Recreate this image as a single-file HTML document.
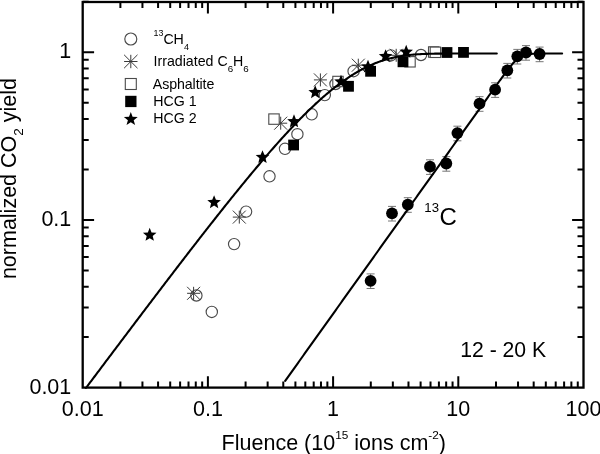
<!DOCTYPE html>
<html><head><meta charset="utf-8"><style>
html,body{margin:0;padding:0;background:#fff;}
body{width:600px;height:454px;overflow:hidden;font-family:"Liberation Sans",sans-serif;}
svg{display:block;will-change:transform;}
</style></head><body>
<svg width="600" height="454" viewBox="0 0 600 454"><rect x="82.70" y="2.00" width="500.80" height="385.60" fill="none" stroke="#000" stroke-width="2.3"/>
<path fill="none" stroke="#000" stroke-width="2.00" d="M120.39,387.60v-6.00M120.39,2.00v6.00M142.44,387.60v-6.00M142.44,2.00v6.00M158.08,387.60v-6.00M158.08,2.00v6.00M170.21,387.60v-6.00M170.21,2.00v6.00M180.12,387.60v-6.00M180.12,2.00v6.00M188.51,387.60v-6.00M188.51,2.00v6.00M195.77,387.60v-6.00M195.77,2.00v6.00M202.17,387.60v-6.00M202.17,2.00v6.00M207.90,387.60v-11.40M207.90,2.00v11.40M245.59,387.60v-6.00M245.59,2.00v6.00M267.64,387.60v-6.00M267.64,2.00v6.00M283.28,387.60v-6.00M283.28,2.00v6.00M295.41,387.60v-6.00M295.41,2.00v6.00M305.32,387.60v-6.00M305.32,2.00v6.00M313.71,387.60v-6.00M313.71,2.00v6.00M320.97,387.60v-6.00M320.97,2.00v6.00M327.37,387.60v-6.00M327.37,2.00v6.00M333.10,387.60v-11.40M333.10,2.00v11.40M370.79,387.60v-6.00M370.79,2.00v6.00M392.84,387.60v-6.00M392.84,2.00v6.00M408.48,387.60v-6.00M408.48,2.00v6.00M420.61,387.60v-6.00M420.61,2.00v6.00M430.52,387.60v-6.00M430.52,2.00v6.00M438.91,387.60v-6.00M438.91,2.00v6.00M446.17,387.60v-6.00M446.17,2.00v6.00M452.57,387.60v-6.00M452.57,2.00v6.00M458.30,387.60v-11.40M458.30,2.00v11.40M495.99,387.60v-6.00M495.99,2.00v6.00M518.04,387.60v-6.00M518.04,2.00v6.00M533.68,387.60v-6.00M533.68,2.00v6.00M545.81,387.60v-6.00M545.81,2.00v6.00M555.72,387.60v-6.00M555.72,2.00v6.00M564.11,387.60v-6.00M564.11,2.00v6.00M571.37,387.60v-6.00M571.37,2.00v6.00M577.77,387.60v-6.00M577.77,2.00v6.00M82.70,337.12h6.00M583.50,337.12h-6.00M82.70,307.59h6.00M583.50,307.59h-6.00M82.70,286.63h6.00M583.50,286.63h-6.00M82.70,270.38h6.00M583.50,270.38h-6.00M82.70,257.10h6.00M583.50,257.10h-6.00M82.70,245.88h6.00M583.50,245.88h-6.00M82.70,236.15h6.00M583.50,236.15h-6.00M82.70,227.57h6.00M583.50,227.57h-6.00M82.70,219.90h11.40M583.50,219.90h-11.40M82.70,169.42h6.00M583.50,169.42h-6.00M82.70,139.89h6.00M583.50,139.89h-6.00M82.70,118.93h6.00M583.50,118.93h-6.00M82.70,102.68h6.00M583.50,102.68h-6.00M82.70,89.40h6.00M583.50,89.40h-6.00M82.70,78.18h6.00M583.50,78.18h-6.00M82.70,68.45h6.00M583.50,68.45h-6.00M82.70,59.87h6.00M583.50,59.87h-6.00M82.70,52.20h11.40M583.50,52.20h-11.40M82.70,1.72h6.00M583.50,1.72h-6.00"/>
<circle cx="196.4" cy="295.5" r="5.65" fill="none" stroke="#4a4a4a" stroke-width="1.15"/>
<circle cx="211.8" cy="311.9" r="5.65" fill="none" stroke="#4a4a4a" stroke-width="1.15"/>
<circle cx="234.1" cy="244.1" r="5.65" fill="none" stroke="#4a4a4a" stroke-width="1.15"/>
<circle cx="246.1" cy="211.6" r="5.65" fill="none" stroke="#4a4a4a" stroke-width="1.15"/>
<circle cx="269.5" cy="176.3" r="5.65" fill="none" stroke="#4a4a4a" stroke-width="1.15"/>
<circle cx="285.0" cy="148.8" r="5.65" fill="none" stroke="#4a4a4a" stroke-width="1.15"/>
<circle cx="297.4" cy="134.2" r="5.65" fill="none" stroke="#4a4a4a" stroke-width="1.15"/>
<circle cx="311.7" cy="114.3" r="5.65" fill="none" stroke="#4a4a4a" stroke-width="1.15"/>
<circle cx="324.8" cy="95.1" r="5.65" fill="none" stroke="#4a4a4a" stroke-width="1.15"/>
<circle cx="335.5" cy="84.0" r="5.65" fill="none" stroke="#4a4a4a" stroke-width="1.15"/>
<circle cx="353.6" cy="71.2" r="5.65" fill="none" stroke="#4a4a4a" stroke-width="1.15"/>
<circle cx="390.8" cy="55.4" r="5.65" fill="none" stroke="#4a4a4a" stroke-width="1.15"/>
<circle cx="421.0" cy="55.0" r="5.65" fill="none" stroke="#4a4a4a" stroke-width="1.15"/>
<path d="M187.1,293.3h13.0M193.6,286.8v13.0M187.1,286.8l13.0,13.0M187.1,299.8l13.0,-13.0" fill="none" stroke="#3a3a3a" stroke-width="1.0"/>
<path d="M232.8,217.1h13.0M239.3,210.6v13.0M232.8,210.6l13.0,13.0M232.8,223.6l13.0,-13.0" fill="none" stroke="#3a3a3a" stroke-width="1.0"/>
<path d="M274.2,123.2h13.0M280.7,116.7v13.0M274.2,116.7l13.0,13.0M274.2,129.7l13.0,-13.0" fill="none" stroke="#3a3a3a" stroke-width="1.0"/>
<path d="M313.9,79.9h13.0M320.4,73.4v13.0M313.9,73.4l13.0,13.0M313.9,86.4l13.0,-13.0" fill="none" stroke="#3a3a3a" stroke-width="1.0"/>
<path d="M351.8,65.2h13.0M358.3,58.7v13.0M351.8,58.7l13.0,13.0M351.8,71.7l13.0,-13.0" fill="none" stroke="#3a3a3a" stroke-width="1.0"/>
<path d="M389.7,55.3h13.0M396.2,48.8v13.0M389.7,48.8l13.0,13.0M389.7,61.8l13.0,-13.0" fill="none" stroke="#3a3a3a" stroke-width="1.0"/>
<rect x="268.8" y="113.9" width="10.4" height="10.4" fill="#fff" stroke="#4a4a4a" stroke-width="1.1"/>
<rect x="332.8" y="76.3" width="10.4" height="10.4" fill="#fff" stroke="#4a4a4a" stroke-width="1.1"/>
<rect x="404.8" y="56.6" width="10.4" height="10.4" fill="#fff" stroke="#4a4a4a" stroke-width="1.1"/>
<rect x="428.5" y="46.8" width="10.4" height="10.4" fill="#fff" stroke="#4a4a4a" stroke-width="1.1"/>
<rect x="430.2" y="47.1" width="10.4" height="10.4" fill="#fff" stroke="#4a4a4a" stroke-width="1.1"/>
<rect x="288.2" y="139.6" width="10.8" height="10.8" fill="#000"/>
<rect x="343.1" y="80.9" width="10.8" height="10.8" fill="#000"/>
<rect x="365.2" y="65.9" width="10.8" height="10.8" fill="#000"/>
<rect x="397.6" y="56.4" width="10.8" height="10.8" fill="#000"/>
<rect x="441.6" y="47.1" width="10.8" height="10.8" fill="#000"/>
<rect x="458.1" y="47.0" width="10.8" height="10.8" fill="#000"/>
<polygon points="149.70,227.85 151.55,232.45 156.50,232.79 152.70,235.97 153.90,240.78 149.70,238.15 145.50,240.78 146.70,235.97 142.90,232.79 147.85,232.45" fill="#000"/>
<polygon points="214.10,195.25 215.95,199.85 220.90,200.19 217.10,203.37 218.30,208.18 214.10,205.55 209.90,208.18 211.10,203.37 207.30,200.19 212.25,199.85" fill="#000"/>
<polygon points="262.50,150.15 264.35,154.75 269.30,155.09 265.50,158.27 266.70,163.08 262.50,160.45 258.30,163.08 259.50,158.27 255.70,155.09 260.65,154.75" fill="#000"/>
<polygon points="294.00,114.35 295.85,118.95 300.80,119.29 297.00,122.47 298.20,127.28 294.00,124.65 289.80,127.28 291.00,122.47 287.20,119.29 292.15,118.95" fill="#000"/>
<polygon points="315.20,85.25 317.05,89.85 322.00,90.19 318.20,93.37 319.40,98.18 315.20,95.55 311.00,98.18 312.20,93.37 308.40,90.19 313.35,89.85" fill="#000"/>
<polygon points="341.00,74.65 342.85,79.25 347.80,79.59 344.00,82.77 345.20,87.58 341.00,84.95 336.80,87.58 338.00,82.77 334.20,79.59 339.15,79.25" fill="#000"/>
<polygon points="368.00,59.65 369.85,64.25 374.80,64.59 371.00,67.77 372.20,72.58 368.00,69.95 363.80,72.58 365.00,67.77 361.20,64.59 366.15,64.25" fill="#000"/>
<polygon points="385.60,49.25 387.45,53.85 392.40,54.19 388.60,57.37 389.80,62.18 385.60,59.55 381.40,62.18 382.60,57.37 378.80,54.19 383.75,53.85" fill="#000"/>
<polygon points="406.20,44.85 408.05,49.45 413.00,49.79 409.20,52.97 410.40,57.78 406.20,55.15 402.00,57.78 403.20,52.97 399.40,49.79 404.35,49.45" fill="#000"/>
<path d="M370.6,273.9V288.5M366.6,273.9h8.0M366.6,288.5h8.0" fill="none" stroke="#666" stroke-width="0.9"/>
<path d="M392.0,206.4V221.0M388.0,206.4h8.0M388.0,221.0h8.0" fill="none" stroke="#666" stroke-width="0.9"/>
<path d="M407.8,197.7V212.3M403.8,197.7h8.0M403.8,212.3h8.0" fill="none" stroke="#666" stroke-width="0.9"/>
<path d="M430.0,159.8V174.4M426.0,159.8h8.0M426.0,174.4h8.0" fill="none" stroke="#666" stroke-width="0.9"/>
<path d="M446.3,156.6V171.2M442.3,156.6h8.0M442.3,171.2h8.0" fill="none" stroke="#666" stroke-width="0.9"/>
<path d="M457.4,126.2V140.8M453.4,126.2h8.0M453.4,140.8h8.0" fill="none" stroke="#666" stroke-width="0.9"/>
<path d="M479.5,96.7V111.3M475.5,96.7h8.0M475.5,111.3h8.0" fill="none" stroke="#666" stroke-width="0.9"/>
<path d="M495.1,82.8V97.4M491.1,82.8h8.0M491.1,97.4h8.0" fill="none" stroke="#666" stroke-width="0.9"/>
<path d="M507.3,63.4V78.0M503.3,63.4h8.0M503.3,78.0h8.0" fill="none" stroke="#666" stroke-width="0.9"/>
<path d="M517.3,49.4V64.0M513.3,49.4h8.0M513.3,64.0h8.0" fill="none" stroke="#666" stroke-width="0.9"/>
<path d="M526.0,45.6V60.2M522.0,45.6h8.0M522.0,60.2h8.0" fill="none" stroke="#666" stroke-width="0.9"/>
<path d="M539.6,47.1V61.7M535.6,47.1h8.0M535.6,61.7h8.0" fill="none" stroke="#666" stroke-width="0.9"/>
<circle cx="370.6" cy="280.8" r="5.9" fill="#000"/>
<circle cx="392.0" cy="213.3" r="5.9" fill="#000"/>
<circle cx="407.8" cy="204.6" r="5.9" fill="#000"/>
<circle cx="430.0" cy="166.7" r="5.9" fill="#000"/>
<circle cx="446.3" cy="163.5" r="5.9" fill="#000"/>
<circle cx="457.4" cy="133.1" r="5.9" fill="#000"/>
<circle cx="479.5" cy="103.6" r="5.9" fill="#000"/>
<circle cx="495.1" cy="89.7" r="5.9" fill="#000"/>
<circle cx="507.3" cy="70.3" r="5.9" fill="#000"/>
<circle cx="517.3" cy="56.3" r="5.9" fill="#000"/>
<circle cx="526.0" cy="52.5" r="5.9" fill="#000"/>
<circle cx="539.6" cy="54.0" r="5.9" fill="#000"/>
<polyline fill="none" stroke="#000" stroke-width="2.1" stroke-linejoin="round" stroke-linecap="round" points="85.97,387.98 87.05,386.54 88.12,385.11 89.20,383.67 90.28,382.24 91.35,380.81 92.43,379.37 93.51,377.94 94.58,376.50 95.66,375.07 96.74,373.64 97.81,372.20 98.89,370.77 99.97,369.34 101.05,367.91 102.12,366.47 103.20,365.04 104.28,363.61 105.35,362.18 106.43,360.74 107.51,359.31 108.58,357.88 109.66,356.45 110.74,355.02 111.81,353.59 112.89,352.16 113.97,350.73 115.04,349.30 116.12,347.87 117.20,346.44 118.27,345.01 119.35,343.58 120.43,342.15 121.50,340.73 122.58,339.30 123.66,337.87 124.73,336.44 125.81,335.02 126.89,333.59 127.96,332.16 129.04,330.74 130.12,329.31 131.19,327.88 132.27,326.46 133.35,325.03 134.42,323.61 135.50,322.18 136.58,320.76 137.65,319.34 138.73,317.91 139.81,316.49 140.88,315.07 141.96,313.65 143.04,312.23 144.11,310.80 145.19,309.38 146.27,307.96 147.35,306.54 148.42,305.12 149.50,303.70 150.58,302.29 151.65,300.87 152.73,299.45 153.81,298.03 154.88,296.62 155.96,295.20 157.04,293.79 158.11,292.37 159.19,290.96 160.27,289.54 161.34,288.13 162.42,286.72 163.50,285.30 164.57,283.89 165.65,282.48 166.73,281.07 167.80,279.66 168.88,278.25 169.96,276.84 171.03,275.44 172.11,274.03 173.19,272.62 174.26,271.22 175.34,269.81 176.42,268.41 177.49,267.00 178.57,265.60 179.65,264.20 180.72,262.80 181.80,261.40 182.88,260.00 183.95,258.60 185.03,257.20 186.11,255.80 187.18,254.41 188.26,253.01 189.34,251.62 190.41,250.23 191.49,248.83 192.57,247.44 193.64,246.05 194.72,244.66 195.80,243.28 196.88,241.89 197.95,240.50 199.03,239.12 200.11,237.73 201.18,236.35 202.26,234.97 203.34,233.59 204.41,232.21 205.49,230.83 206.57,229.46 207.64,228.08 208.72,226.71 209.80,225.33 210.87,223.96 211.95,222.59 213.03,221.23 214.10,219.86 215.18,218.49 216.26,217.13 217.33,215.77 218.41,214.41 219.49,213.05 220.56,211.69 221.64,210.33 222.72,208.98 223.79,207.63 224.87,206.28 225.95,204.93 227.02,203.58 228.10,202.23 229.18,200.89 230.25,199.55 231.33,198.21 232.41,196.87 233.48,195.54 234.56,194.20 235.64,192.87 236.71,191.54 237.79,190.22 238.87,188.89 239.94,187.57 241.02,186.25 242.10,184.93 243.18,183.62 244.25,182.30 245.33,180.99 246.41,179.69 247.48,178.38 248.56,177.08 249.64,175.78 250.71,174.48 251.79,173.19 252.87,171.90 253.94,170.61 255.02,169.32 256.10,168.04 257.17,166.76 258.25,165.48 259.33,164.21 260.40,162.94 261.48,161.67 262.56,160.41 263.63,159.15 264.71,157.90 265.79,156.64 266.86,155.39 267.94,154.15 269.02,152.91 270.09,151.67 271.17,150.43 272.25,149.20 273.32,147.98 274.40,146.75 275.48,145.54 276.55,144.32 277.63,143.11 278.71,141.91 279.78,140.71 280.86,139.51 281.94,138.32 283.01,137.13 284.09,135.95 285.17,134.77 286.24,133.60 287.32,132.43 288.40,131.27 289.47,130.11 290.55,128.96 291.63,127.82 292.71,126.68 293.78,125.54 294.86,124.41 295.94,123.29 297.01,122.17 298.09,121.06 299.17,119.95 300.24,118.85 301.32,117.75 302.40,116.67 303.47,115.59 304.55,114.51 305.63,113.44 306.70,112.38 307.78,111.33 308.86,110.28 309.93,109.24 311.01,108.20 312.09,107.18 313.16,106.16 314.24,105.14 315.32,104.14 316.39,103.14 317.47,102.15 318.55,101.17 319.62,100.20 320.70,99.23 321.78,98.28 322.85,97.33 323.93,96.39 325.01,95.46 326.08,94.53 327.16,93.62 328.24,92.71 329.31,91.82 330.39,90.93 331.47,90.05 332.54,89.18 333.62,88.32 334.70,87.47 335.77,86.63 336.85,85.80 337.93,84.98 339.01,84.17 340.08,83.36 341.16,82.57 342.24,81.79 343.31,81.02 344.39,80.26 345.47,79.51 346.54,78.77 347.62,78.04 348.70,77.33 349.77,76.62 350.85,75.92 351.93,75.24 353.00,74.57 354.08,73.90 355.16,73.25 356.23,72.61 357.31,71.98 358.39,71.37 359.46,70.76 360.54,70.17 361.62,69.59 362.69,69.02 363.77,68.46 364.85,67.91 365.92,67.37 367.00,66.85 368.08,66.34 369.15,65.84 370.23,65.35 371.31,64.87 372.38,64.41 373.46,63.95 374.54,63.51 375.61,63.08 376.69,62.66 377.77,62.26 378.84,61.86 379.92,61.48 381.00,61.11 382.07,60.75 383.15,60.40 384.23,60.06 385.30,59.73 386.38,59.42 387.46,59.11 388.54,58.82 389.61,58.53 390.69,58.26 391.77,58.00 392.84,57.74 393.92,57.50 395.00,57.27 396.07,57.05 397.15,56.83 398.23,56.63 399.30,56.43 400.38,56.25 401.46,56.07 402.53,55.90 403.61,55.74 404.69,55.59 405.76,55.44 406.84,55.31 407.92,55.18 408.99,55.06 410.07,54.94 411.15,54.83 412.22,54.73 413.30,54.63 414.38,54.54 415.45,54.46 416.53,54.38 417.61,54.31 418.68,54.24 419.76,54.18 420.84,54.12 421.91,54.06 422.99,54.01 424.07,53.96 425.14,53.92 426.22,53.88 427.30,53.85 428.37,53.81 429.45,53.78 430.53,53.75 431.60,53.73 432.68,53.71 433.76,53.69 434.84,53.67 435.91,53.65 436.99,53.63 438.07,53.62 439.14,53.61 440.22,53.60 441.30,53.59 442.37,53.58 443.45,53.57 444.53,53.57 445.60,53.56 446.68,53.55 447.76,53.55 448.83,53.55 449.91,53.54 450.99,53.54 452.06,53.54 453.14,53.53 454.22,53.53 455.29,53.53 456.37,53.53 457.45,53.53 458.52,53.53 459.60,53.53 460.68,53.53 461.75,53.53 462.83,53.53 463.91,53.52 464.98,53.52 466.06,53.52 467.14,53.52 468.21,53.52 469.29,53.52 470.37,53.52 471.44,53.52 472.52,53.52 473.60,53.52 474.67,53.52 475.75,53.52 476.83,53.52 477.90,53.52 478.98,53.52 480.06,53.52 481.13,53.52 482.21,53.52 483.29,53.52 484.37,53.52 485.44,53.52 486.52,53.52 487.60,53.52 488.67,53.52 489.75,53.52 490.83,53.52 491.90,53.52 492.98,53.52 494.06,53.52 495.13,53.52 496.21,53.52 496.80,53.52"/>
<polyline fill="none" stroke="#000" stroke-width="2.1" stroke-linejoin="round" stroke-linecap="round" points="285.20,380.86 286.28,379.35 287.35,377.84 288.43,376.34 289.51,374.83 290.58,373.32 291.66,371.81 292.74,370.31 293.81,368.80 294.89,367.29 295.97,365.79 297.05,364.28 298.12,362.77 299.20,361.26 300.28,359.76 301.35,358.25 302.43,356.74 303.51,355.24 304.58,353.73 305.66,352.22 306.74,350.71 307.81,349.21 308.89,347.70 309.97,346.19 311.04,344.69 312.12,343.18 313.20,341.67 314.27,340.16 315.35,338.66 316.43,337.15 317.50,335.64 318.58,334.14 319.66,332.63 320.73,331.12 321.81,329.61 322.89,328.11 323.96,326.60 325.04,325.09 326.12,323.59 327.19,322.08 328.27,320.57 329.35,319.06 330.42,317.56 331.50,316.05 332.58,314.54 333.65,313.04 334.73,311.53 335.81,310.02 336.88,308.51 337.96,307.01 339.04,305.50 340.11,303.99 341.19,302.49 342.27,300.98 343.34,299.47 344.42,297.96 345.50,296.46 346.58,294.95 347.65,293.44 348.73,291.94 349.81,290.43 350.88,288.92 351.96,287.41 353.04,285.91 354.11,284.40 355.19,282.89 356.27,281.39 357.34,279.88 358.42,278.37 359.50,276.86 360.57,275.36 361.65,273.85 362.73,272.34 363.80,270.84 364.88,269.33 365.96,267.82 367.03,266.31 368.11,264.81 369.19,263.30 370.26,261.79 371.34,260.29 372.42,258.78 373.49,257.27 374.57,255.76 375.65,254.26 376.72,252.75 377.80,251.24 378.88,249.74 379.95,248.23 381.03,246.72 382.11,245.21 383.18,243.71 384.26,242.20 385.34,240.69 386.41,239.19 387.49,237.68 388.57,236.17 389.64,234.66 390.72,233.16 391.80,231.65 392.88,230.14 393.95,228.64 395.03,227.13 396.11,225.62 397.18,224.11 398.26,222.61 399.34,221.10 400.41,219.59 401.49,218.09 402.57,216.58 403.64,215.07 404.72,213.56 405.80,212.06 406.87,210.55 407.95,209.04 409.03,207.54 410.10,206.03 411.18,204.52 412.26,203.01 413.33,201.51 414.41,200.00 415.49,198.49 416.56,196.99 417.64,195.48 418.72,193.97 419.79,192.46 420.87,190.96 421.95,189.45 423.02,187.94 424.10,186.44 425.18,184.93 426.25,183.42 427.33,181.91 428.41,180.41 429.48,178.90 430.56,177.39 431.64,175.89 432.71,174.38 433.79,172.87 434.87,171.36 435.94,169.86 437.02,168.35 438.10,166.84 439.17,165.34 440.25,163.83 441.33,162.32 442.41,160.81 443.48,159.31 444.56,157.80 445.64,156.29 446.71,154.79 447.79,153.28 448.87,151.77 449.94,150.26 451.02,148.76 452.10,147.25 453.17,145.74 454.25,144.24 455.33,142.73 456.40,141.22 457.48,139.71 458.56,138.21 459.63,136.70 460.71,135.19 461.79,133.69 462.86,132.18 463.94,130.67 465.02,129.16 466.09,127.66 467.17,126.15 468.25,124.64 469.32,123.14 470.40,121.63 471.48,120.12 472.55,118.61 473.63,117.11 474.71,115.60 475.78,114.09 476.86,112.59 477.94,111.08 479.01,109.57 480.09,108.06 481.17,106.56 482.24,105.05 483.32,103.54 484.40,102.04 485.47,100.53 486.55,99.02 487.63,97.52 488.71,96.01 489.78,94.51 490.86,93.00 491.94,91.50 493.01,89.99 494.09,88.49 495.17,86.99 496.24,85.49 497.32,83.99 498.40,82.49 499.47,81.00 500.55,79.51 501.63,78.03 502.70,76.55 503.78,75.08 504.86,73.62 505.93,72.18 507.01,70.75 508.09,69.34 509.16,67.96 510.24,66.61 511.32,65.30 512.39,64.03 513.47,62.82 514.55,61.67 515.62,60.60 516.70,59.60 517.78,58.69 518.85,57.87 519.93,57.15 521.01,56.52 522.08,55.97 523.16,55.51 524.24,55.13 525.31,54.81 526.39,54.55 527.47,54.34 528.54,54.17 529.62,54.03 530.70,53.92 531.77,53.84 532.85,53.77 533.93,53.72 535.00,53.67 536.08,53.64 537.16,53.62 538.24,53.60 539.31,53.58 540.39,53.57 541.47,53.56 542.54,53.55 543.62,53.54 544.70,53.54 545.77,53.54 546.85,53.53 547.93,53.53 549.00,53.53 550.08,53.53 551.16,53.53 552.23,53.53 553.31,53.53 554.39,53.52 555.46,53.52 556.54,53.52 557.62,53.52 558.69,53.52 559.77,53.52 560.85,53.52 561.92,53.52 562.13,53.52"/>
<circle cx="130.8" cy="39.0" r="6.0" fill="none" stroke="#4a4a4a" stroke-width="1.15"/>
<path d="M124.1,61.5h13.4M130.8,54.8v13.4M124.1,54.8l13.4,13.4M124.1,68.2l13.4,-13.4" fill="none" stroke="#3a3a3a" stroke-width="1.0"/>
<rect x="125.3" y="78.5" width="11.0" height="11.0" fill="#fff" stroke="#4a4a4a" stroke-width="1.1"/>
<rect x="125.2" y="95.8" width="11.3" height="11.3" fill="#000"/>
<polygon points="130.80,111.90 132.59,116.73 137.74,116.94 133.70,120.14 135.09,125.11 130.80,122.25 126.51,125.11 127.90,120.14 123.86,116.94 129.01,116.73" fill="#000"/>
<text x="153.5" y="43.7" font-size="14.2" font-family="Liberation Sans, sans-serif"><tspan font-size="8.9" dy="-7.5">13</tspan><tspan dy="7.5">CH</tspan><tspan font-size="9.0" dy="6.2">4</tspan></text>
<text x="153.5" y="66.2" font-size="14.2" font-family="Liberation Sans, sans-serif">Irradiated C<tspan font-size="9.8" dy="5.5">6</tspan><tspan dy="-5.5">H</tspan><tspan font-size="9.8" dy="5.5">6</tspan></text>
<text x="152.8" y="88.7" font-size="14.2" font-family="Liberation Sans, sans-serif" textLength="61.5" lengthAdjust="spacing">Asphaltite</text>
<text x="153.2" y="106.3" font-size="14.2" font-family="Liberation Sans, sans-serif">HCG 1</text>
<text x="153.2" y="123.2" font-size="14.2" font-family="Liberation Sans, sans-serif">HCG 2</text>
<text x="424.3" y="211.7" font-size="13.2" font-family="Liberation Sans, sans-serif">13</text>
<text x="439.4" y="225" font-size="24" font-family="Liberation Sans, sans-serif">C</text>
<text x="460.2" y="357.3" font-size="21.2" font-family="Liberation Sans, sans-serif">12 - 20 K</text>
<text x="71.3" y="58.4" font-size="21.5" text-anchor="end" font-family="Liberation Sans, sans-serif">1</text>
<text x="71.3" y="226.1" font-size="21.5" text-anchor="end" font-family="Liberation Sans, sans-serif">0.1</text>
<text x="71.3" y="393.8" font-size="21.5" text-anchor="end" font-family="Liberation Sans, sans-serif">0.01</text>
<text x="82.7" y="416.3" font-size="21.5" text-anchor="middle" font-family="Liberation Sans, sans-serif">0.01</text>
<text x="207.9" y="416.3" font-size="21.5" text-anchor="middle" font-family="Liberation Sans, sans-serif">0.1</text>
<text x="333.1" y="416.3" font-size="21.5" text-anchor="middle" font-family="Liberation Sans, sans-serif">1</text>
<text x="458.3" y="416.3" font-size="21.5" text-anchor="middle" font-family="Liberation Sans, sans-serif">10</text>
<text x="583.5" y="416.3" font-size="21.5" text-anchor="middle" font-family="Liberation Sans, sans-serif">100</text>
<text x="221.6" y="449.5" font-size="21.5" font-family="Liberation Sans, sans-serif">Fluence (10<tspan font-size="11.8" dy="-11">15</tspan><tspan dy="11"> ions cm</tspan><tspan font-size="11.8" dy="-11">-2</tspan><tspan dy="11">)</tspan></text>
<text transform="translate(15.6,279.1) rotate(-90)" x="0" y="0" font-size="21.5" font-family="Liberation Sans, sans-serif">normalized CO<tspan font-size="13.5" dy="7">2</tspan><tspan dy="-7"> yield</tspan></text></svg>
</body></html>
